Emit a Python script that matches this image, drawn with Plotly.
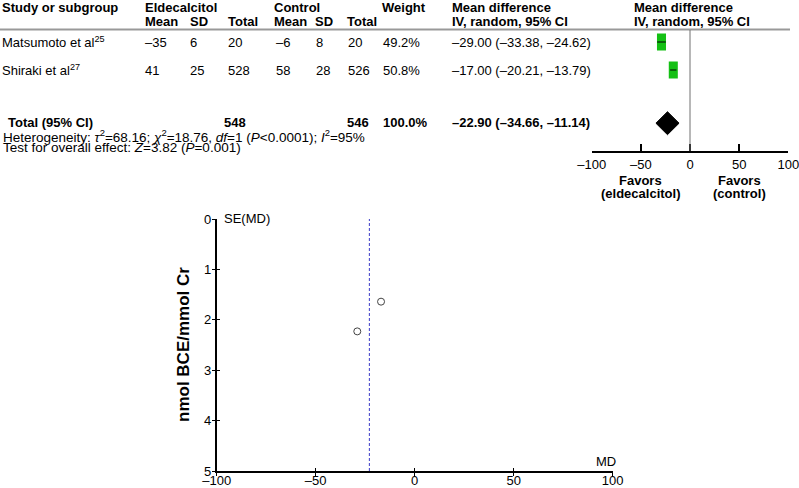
import plotly.graph_objects as go

# ---------------- data ----------------
studies = ["Matsumoto et al<sup>25</sup>", "Shiraki et al<sup>27</sup>"]
eld_mean = [-35, 41]
eld_sd = [6, 25]
eld_total = [20, 528]
ctl_mean = [-6, 58]
ctl_sd = [8, 28]
ctl_total = [20, 526]
weights = [49.2, 50.8]
md = [-29.00, -17.00]
ci_low = [-33.38, -20.21]
ci_high = [-24.62, -13.79]
se_md = [2.23, 1.64]

total_eld = 548
total_ctl = 546
total_weight = 100.0
pooled_md = -22.90
pooled_low = -34.66
pooled_high = -11.14

forest_ticks = [-100, -50, 0, 50, 100]
funnel_xticks = [-100, -50, 0, 50, 100]
funnel_yticks = [0, 1, 2, 3, 4, 5]

# ---------------- helpers ----------------
W, H = 799, 488
FONT = "Liberation Sans, Arial, sans-serif"


def m(v):
    return str(v).replace("-", "\u2013")


def px(x):
    return x / W


def py(y):
    return 1 - y / H


annotations = []


def txt(x, y, s, size=13, bold=False, anchor="left", color="black"):
    if bold:
        s = "<b>" + s + "</b>"
    annotations.append(dict(
        x=px(x), y=py(y), xref="paper", yref="paper", text=s, showarrow=False,
        xanchor=anchor, yanchor="middle", font=dict(family=FONT, size=size, color=color)))


# header
txt(0, 7, "Study or subgroup", bold=True)
txt(143, 7, "Eldecalcitol", bold=True)
txt(272, 7, "Control", bold=True)
txt(380, 7, "Weight", bold=True)
txt(450, 7, "Mean difference", bold=True)
txt(632, 7, "Mean difference", bold=True)
txt(143, 21, "Mean", bold=True)
txt(188, 21, "SD", bold=True)
txt(226, 21, "Total", bold=True)
txt(272, 21, "Mean", bold=True)
txt(313, 21, "SD", bold=True)
txt(345, 21, "Total", bold=True)
txt(450, 21, "IV, random, 95% CI", bold=True)
txt(632, 21, "IV, random, 95% CI", bold=True)

row_y = [42, 70]
for i in range(len(studies)):
    y = row_y[i]
    txt(0, y, studies[i])
    txt(143, y, m(eld_mean[i]))
    txt(188, y, m(eld_sd[i]))
    txt(226, y, m(eld_total[i]))
    txt(274, y, m(ctl_mean[i]))
    txt(314, y, m(ctl_sd[i]))
    txt(346, y, m(ctl_total[i]))
    txt(381, y, f"{weights[i]:.1f}%")
    txt(450, y, m(f"{md[i]:.2f} ({ci_low[i]:.2f}, {ci_high[i]:.2f})"))

txt(6, 122, "Total (95% CI)", bold=True)
txt(222, 122, str(total_eld), bold=True)
txt(345, 122, str(total_ctl), bold=True)
txt(381, 122, f"{total_weight:.1f}%", bold=True)
txt(450, 122, m(f"{pooled_md:.2f} ({pooled_low:.2f}, {pooled_high:.2f})"), bold=True)
txt(1, 135.5, "Heterogeneity: <i>\u03c4</i><sup>2</sup>=68.16; <i>\u03c7</i><sup>2</sup>=18.76, <i>df</i>=1 (<i>P</i>&lt;0.0001); <i>I</i><sup>2</sup>=95%", size=13.5)
txt(1, 147.5, "Test for overall effect: <i>Z</i>=3.82 (<i>P</i>=0.001)", size=13.5)

# favors labels (forest x coords)
for xv, l1, l2 in [(-50, "Favors", "(eldecalcitol)"), (50, "Favors", "(control)")]:
    for yy, s in [(180, l1), (194, l2)]:
        annotations.append(dict(x=xv, y=py(yy), xref="x", yref="paper", text="<b>" + s + "</b>",
                                showarrow=False, xanchor="center", yanchor="middle",
                                font=dict(family=FONT, size=13, color="black")))

# funnel labels
txt(222, 218, "SE(MD)", size=13)
txt(606, 461, "MD", size=13, anchor="center")
annotations.append(dict(x=px(183), y=py(345), xref="paper", yref="paper",
                        text="<b>nmol BCE/mmol Cr</b>", textangle=-90, showarrow=False,
                        xanchor="center", yanchor="middle",
                        font=dict(family=FONT, size=17, color="black")))

# ---------------- figure ----------------
fig = go.Figure()

rows = list(range(len(studies)))
pooled_row = 2.9
# CI lines
for i in rows:
    fig.add_trace(go.Scatter(x=[ci_low[i], ci_high[i]], y=[i, i], mode="lines",
                             line=dict(color="black", width=1), xaxis="x", yaxis="y",
                             hoverinfo="skip"))
# boxes
box_half = 4.6
fig.add_trace(go.Bar(x=[2 * box_half] * len(md), base=[v - box_half for v in md], y=rows,
                     orientation="h", width=0.6, marker=dict(color="#14c014", line=dict(width=0)),
                     xaxis="x", yaxis="y"))
# diamond
dh = 0.41
fig.add_trace(go.Scatter(x=[pooled_low, pooled_md, pooled_high, pooled_md, pooled_low],
                         y=[pooled_row, pooled_row - dh, pooled_row, pooled_row + dh, pooled_row],
                         mode="lines", fill="toself", fillcolor="black",
                         line=dict(color="black", width=1), xaxis="x", yaxis="y"))

# funnel points
fig.add_trace(go.Scatter(x=md, y=se_md, mode="markers",
                         marker=dict(symbol="circle-open", size=7, color="#444",
                                     line=dict(width=1, color="#444")),
                         xaxis="x2", yaxis="y2"))
# dummy trace so the overlay tick axes are drawn
fig.add_trace(go.Scatter(x=[-1000], y=[-1000], mode="markers", marker=dict(opacity=0),
                         xaxis="x3", yaxis="y3", hoverinfo="skip"))

shapes = [
    # header separator
    dict(type="line", xref="paper", yref="paper", x0=0, x1=px(790), y0=py(29.5), y1=py(29.5),
         line=dict(color="#999999", width=2)),
    # forest zero line
    dict(type="line", xref="x", yref="y domain", x0=0, x1=0, y0=0, y1=1,
         line=dict(color="#707070", width=1)),
    # funnel pooled line
    dict(type="line", xref="x2", yref="y2 domain", x0=pooled_md, x1=pooled_md, y0=0, y1=1,
         line=dict(color="#3c3cc8", width=1, dash="3px,2px")),
]

fx_dom = [px(216.7), px(612.7)]
fy_dom = [py(471), py(219)]

fig.update_layout(
    width=W, height=H,
    margin=dict(l=0, r=0, t=0, b=0, autoexpand=False),
    paper_bgcolor="white", plot_bgcolor="rgba(0,0,0,0)",
    showlegend=False, barmode="overlay",
    font=dict(family=FONT, color="black"),
    annotations=annotations, shapes=shapes,
    xaxis=dict(domain=[px(591.7), px(788.3)], anchor="y", range=[-100, 100], automargin=False,
               showline=True, linecolor="black", linewidth=2, ticks="inside",
               ticklen=7, tickwidth=2, tickcolor="black", ticklabeloverflow="allow",
               tickvals=forest_ticks, ticktext=[m(v) for v in forest_ticks],
               tickfont=dict(size=13, family=FONT), showgrid=False, zeroline=False),
    yaxis=dict(domain=[py(151), py(30)], range=[3.893, -0.4286], visible=False, automargin=False,
               showgrid=False, zeroline=False),
    xaxis2=dict(domain=fx_dom, anchor="y2", range=[-100, 100], automargin=False,
                showline=True, linecolor="black", linewidth=1.5, ticks="outside",
                ticklen=3, tickcolor="black", tickvals=funnel_xticks, ticklabeloverflow="allow",
                ticktext=[m(v) for v in funnel_xticks], ticklabelstandoff=-6,
                tickfont=dict(size=13, family=FONT), showgrid=False, zeroline=False),
    yaxis2=dict(domain=fy_dom, anchor="x2", range=[5, 0], automargin=False,
                showline=True, linecolor="black", linewidth=1.5, ticks="outside",
                ticklen=3, tickcolor="black", tickvals=funnel_yticks, ticklabelstandoff=-2,
                tickfont=dict(size=13, family=FONT), showgrid=False, zeroline=False),
    # overlay axes giving the inner half of the crossing funnel ticks
    xaxis3=dict(overlaying="x2", anchor="y3", domain=fx_dom, range=[-100, 100],
                showline=False, ticks="inside", ticklen=3, tickcolor="black",
                tickvals=funnel_xticks, showticklabels=False, showgrid=False, zeroline=False,
                automargin=False),
    yaxis3=dict(overlaying="y2", anchor="x3", domain=fy_dom, range=[5, 0],
                showline=False, ticks="inside", ticklen=3, tickcolor="black",
                tickvals=funnel_yticks, showticklabels=False, showgrid=False, zeroline=False,
                automargin=False),
)

fig.write_html("out.html", config={"displayModeBar": False},
               post_script="document.body.style.margin='0';document.body.style.overflow='hidden';")
